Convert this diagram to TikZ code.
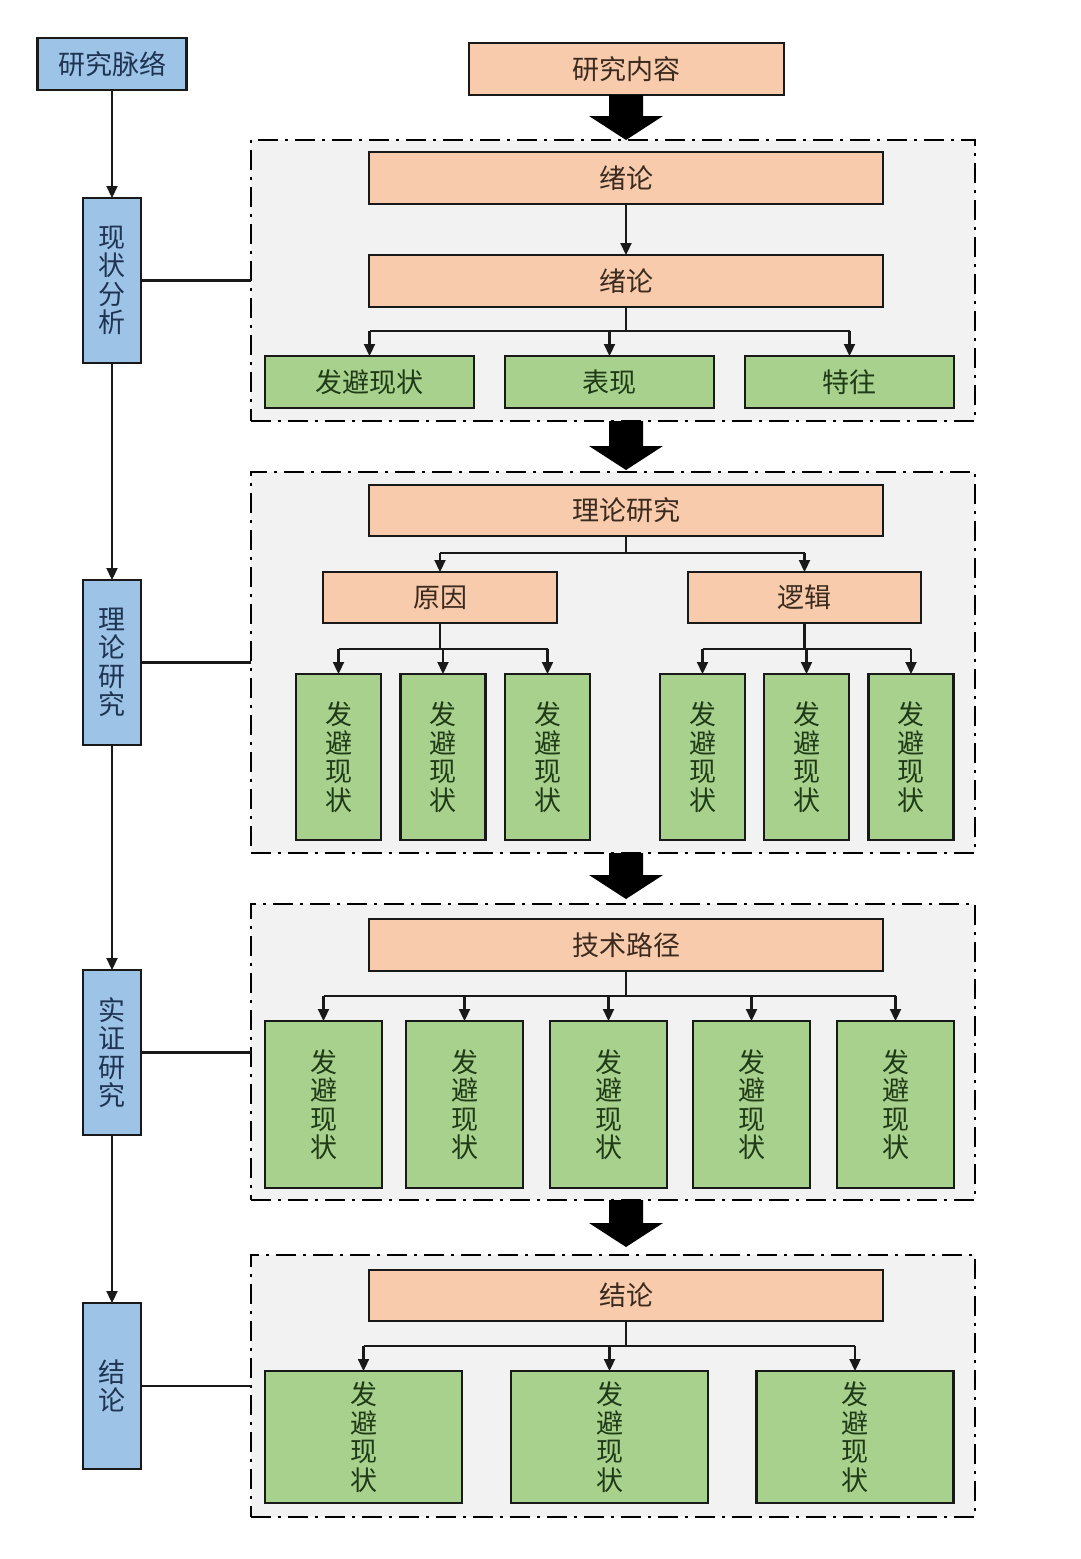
\documentclass[tikz,border=0pt]{standalone}
\usepackage{fontspec}
\setmainfont{Noto Sans CJK SC}
\usetikzlibrary{arrows.meta}
\definecolor{bluef}{HTML}{9DC3E6}
\definecolor{orangef}{HTML}{F8CBAD}
\definecolor{greenf}{HTML}{A9D18E}
\definecolor{framef}{HTML}{F2F2F2}
\definecolor{bluet}{HTML}{1F3453}
\definecolor{oranget}{HTML}{3B2A1E}
\definecolor{greent}{HTML}{1E3A16}
\tikzset{
  box/.style={draw=black!90, line width=2.2pt, inner sep=0pt, outer sep=0pt, align=center,
    font=\fontsize{27}{28.5}\selectfont},
  bluebox/.style={box, fill=bluef, text=bluet},
  orangebox/.style={box, fill=orangef, text=oranget},
  greenbox/.style={box, fill=greenf, text=greent},
  framebox/.style={draw=black, fill=framef, line width=2pt, inner sep=0pt, outer sep=0pt,
    dash pattern=on 20pt off 7pt on 3pt off 7pt},
  conn/.style={line width=2.2pt, draw=black!90},
  arr/.style={conn, -{Triangle[width=11pt,length=12pt]}},
}
\newcommand{\bigarrow}[2]{%
  \fill[black] (609,#1) -- (643,#1) -- (643,{#2-24}) -- (663,{#2-24}) -- (626,#2)
    -- (589,{#2-24}) -- (609,{#2-24}) -- cycle;}
\begin{document}
\begin{tikzpicture}[x=1pt,y=-1pt]
\useasboundingbox (0,0) rectangle (1080,1559);
\fill[white] (0,0) rectangle (1080,1559);

% frames
\node[framebox, minimum width=724, minimum height=281] (F1) at (613,280.5) {};
\node[framebox, minimum width=724, minimum height=381] (F2) at (613,662.5) {};
\node[framebox, minimum width=724, minimum height=296] (F3) at (613,1052) {};
\node[framebox, minimum width=724, minimum height=262] (F4) at (613,1386) {};

% left column
\node[bluebox, minimum width=149, minimum height=52] (L0) at (112,64) {研究脉络};
\node[bluebox, minimum width=58, minimum height=165] (L1) at (112,280.5) {现\\状\\分\\析};
\node[bluebox, minimum width=58, minimum height=165] (L2) at (112,662.5) {理\\论\\研\\究};
\node[bluebox, minimum width=58, minimum height=165] (L3) at (112,1052.5) {实\\证\\研\\究};
\node[bluebox, minimum width=58, minimum height=166] (L4) at (112,1386) {结\\论};
\draw[arr] (L0.south) -- (L1.north);
\draw[arr] (L1.south) -- (L2.north);
\draw[arr] (L2.south) -- (L3.north);
\draw[arr] (L3.south) -- (L4.north);
\draw[conn] (L1.east) -- (L1.east -| F1.west);
\draw[conn] (L2.east) -- (L2.east -| F2.west);
\draw[conn] (L3.east) -- (L3.east -| F3.west);
\draw[conn] (L4.east) -- (L4.east -| F4.west);

% top
\node[orangebox, minimum width=315, minimum height=52] (T) at (626.5,69) {研究内容};
\bigarrow{95}{140}
\bigarrow{421}{470}
\bigarrow{853}{899}
\bigarrow{1200}{1247}

% frame 1
\node[orangebox, minimum width=514, minimum height=52] (A1) at (626,178) {绪论};
\node[orangebox, minimum width=514, minimum height=52] (A2) at (626,281) {绪论};
\draw[arr] (A1.south) -- (A2.north);
\node[greenbox, minimum width=209, minimum height=52] (G1) at (369.5,382) {发避现状};
\node[greenbox, minimum width=209, minimum height=52] (G2) at (609.5,382) {表现};
\node[greenbox, minimum width=209, minimum height=52] (G3) at (849.5,382) {特往};
\coordinate (j1) at (626,331);
\draw[conn] (A2.south) -- (j1);
\draw[conn] (G1.north |- j1) -- (G3.north |- j1);
\foreach \n in {G1,G2,G3} \draw[arr] (\n.north |- j1) -- (\n.north);

% frame 2
\node[orangebox, minimum width=514, minimum height=51] (B0) at (626,510.5) {理论研究};
\node[orangebox, minimum width=234, minimum height=51] (B1) at (440,597.5) {原因};
\node[orangebox, minimum width=233, minimum height=51] (B2) at (804.5,597.5) {逻辑};
\coordinate (j2) at (626,553);
\draw[conn] (B0.south) -- (j2);
\draw[conn] (B1.north |- j2) -- (B2.north |- j2);
\foreach \n in {B1,B2} \draw[arr] (\n.north |- j2) -- (\n.north);
\foreach \n/\x in {V1/338.5,V2/443,V3/547.5,V4/702.5,V5/806.5,V6/911}
  \node[greenbox, minimum width=85, minimum height=166] (\n) at (\x,757) {发\\避\\现\\状};
\coordinate (j3) at (440,649);
\coordinate (j4) at (804.5,649);
\draw[conn] (B1.south) -- (j3);
\draw[conn] (V1.north |- j3) -- (V3.north |- j3);
\foreach \n in {V1,V2,V3} \draw[arr] (\n.north |- j3) -- (\n.north);
\draw[conn] (B2.south) -- (j4);
\draw[conn] (V4.north |- j4) -- (V6.north |- j4);
\foreach \n in {V4,V5,V6} \draw[arr] (\n.north |- j4) -- (\n.north);

% frame 3
\node[orangebox, minimum width=514, minimum height=52] (C0) at (626,945) {技术路径};
\foreach \n/\x in {W1/323.5,W2/464.5,W3/608.5,W4/751.5,W5/895.5}
  \node[greenbox, minimum width=117, minimum height=167] (\n) at (\x,1104.5) {发\\避\\现\\状};
\coordinate (j5) at (626,996);
\draw[conn] (C0.south) -- (j5);
\draw[conn] (W1.north |- j5) -- (W5.north |- j5);
\foreach \n in {W1,W2,W3,W4,W5} \draw[arr] (\n.north |- j5) -- (\n.north);

% frame 4
\node[orangebox, minimum width=514, minimum height=51] (D0) at (626,1295.5) {结论};
\foreach \n/\x in {X1/363.5,X2/609.5,X3/855}
  \node[greenbox, minimum width=197, minimum height=132] (\n) at (\x,1437) {发\\避\\现\\状};
\coordinate (j6) at (626,1346);
\draw[conn] (D0.south) -- (j6);
\draw[conn] (X1.north |- j6) -- (X3.north |- j6);
\foreach \n in {X1,X2,X3} \draw[arr] (\n.north |- j6) -- (\n.north);
\end{tikzpicture}
\end{document}
